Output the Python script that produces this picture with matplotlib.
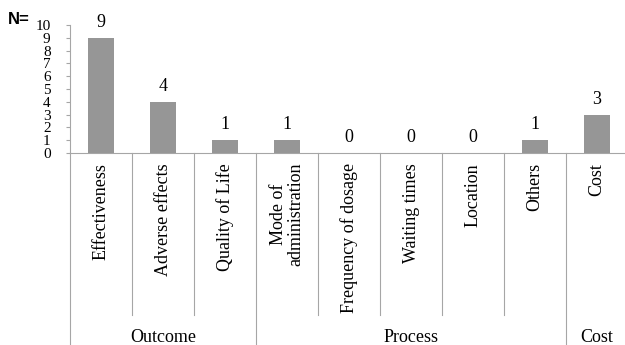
import matplotlib
matplotlib.use("Agg")
import matplotlib.pyplot as plt

categories = ["Effectiveness", "Adverse effects", "Quality of Life",
              "Mode of\nadministration", "Frequency of dosage", "Waiting times",
              "Location", "Others", "Cost"]
counts = [9, 4, 1, 1, 0, 0, 0, 1, 3]
groups = ["Outcome", "Process", "Cost"]
group_sizes = [3, 5, 1]
y_ticks = list(range(0, 11))

SERIF = "Liberation Serif"
LINE = "#a6a6a6"
BAR = "#969696"
FS = 13

fig = plt.figure(figsize=(6.25, 3.45), dpi=100)
ax = fig.add_axes([70 / 625, 1 - 153 / 345, 558 / 625, 128 / 345])

x = list(range(len(categories)))
ax.bar(x, counts, width=0.42, color=BAR, zorder=2)
for xi, v in zip(x, counts):
    ax.annotate(str(v), (xi, v), xytext=(0, 5), textcoords="offset points",
                ha="center", va="bottom", fontsize=FS, family=SERIF)

ax.set_xlim(-0.5, len(categories) - 0.5)
ax.set_ylim(0, 10)
ax.set_yticks(y_ticks)
# tick labels are packed tightly in the original, nearly touching
ax.set_yticklabels([str(t) for t in y_ticks], family=SERIF, fontsize=11)
ax.tick_params(axis="y", length=3, width=0.8, color=LINE, pad=11, direction="out")
ax.set_xticks([])
for s in ["top", "right"]:
    ax.spines[s].set_visible(False)
ax.spines["left"].set_color(LINE)
ax.spines["bottom"].set_color(LINE)

# two-level category axis below the plot
tr = ax.get_xaxis_transform()
px = 1 / 128  # one pixel in axes fraction (vertical)
for xi, lab in zip(x, categories):
    ax.text(xi, -10 * px, lab, transform=tr, rotation=90, ha="center", va="top",
            fontsize=FS, family=SERIF, linespacing=1.0, clip_on=False)

bounds = [0]
for n in group_sizes:
    bounds.append(bounds[-1] + n)
group_edges = set(bounds)
for b in range(len(categories) + 1):
    y_end = -200 * px if b in group_edges else -162 * px
    ax.plot([b - 0.5, b - 0.5], [0, y_end], transform=tr, color=LINE,
            lw=0.8, clip_on=False)
for g, a, b in zip(groups, bounds[:-1], bounds[1:]):
    ax.text((a + b - 1) / 2, -184 * px, g, transform=tr, ha="center", va="center",
            fontsize=FS, family=SERIF, clip_on=False)

fig.text(8 / 625, 1 - 19 / 345, "N=", fontsize=12, fontweight="bold",
         family="Liberation Sans", va="center", ha="left")

fig.savefig("out.png", dpi=100)
